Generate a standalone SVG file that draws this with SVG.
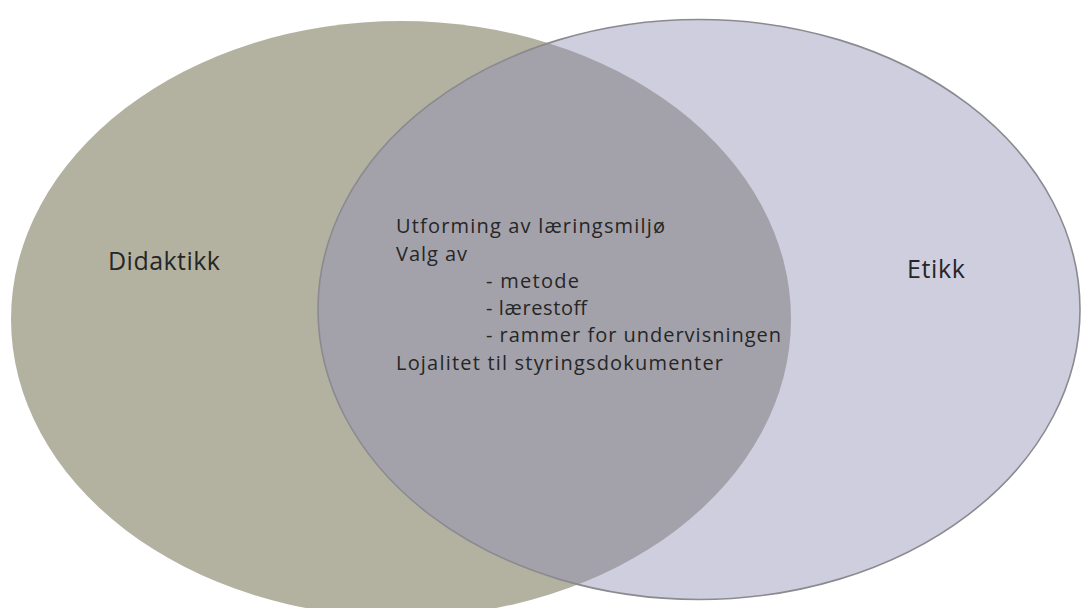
<svg xmlns="http://www.w3.org/2000/svg" width="1081" height="608" viewBox="0 0 1081 608">
<defs>
<style>
.lbl{font-family:"Open Sans","Liberation Sans",sans-serif;fill:#262626}
.big{font-size:25px}
.mid{font-size:20px}
</style>
<clipPath id="clipR"><ellipse cx="699" cy="309.5" rx="381" ry="290"/></clipPath>
</defs>
<rect width="1081" height="608" fill="#ffffff"/>
<g id="didaktikk">
<ellipse cx="401" cy="319" rx="390" ry="298" fill="#b3b2a1"/>
<text class="lbl big" x="108" y="270" textLength="112">Didaktikk</text>
</g>
<g id="etikk">
<ellipse cx="699" cy="309.5" rx="381" ry="290" fill="#cecede"/>
<text class="lbl big" x="907" y="278" textLength="58">Etikk</text>
</g>
<g id="overlap">
<ellipse cx="401" cy="319" rx="390" ry="298" fill="#a3a2aa" clip-path="url(#clipR)"/>
<ellipse cx="699" cy="309.5" rx="381" ry="290" fill="none" stroke="#8a8a90" stroke-width="1.6"/>
<text class="lbl mid" x="396" y="233" textLength="269">Utforming av læringsmiljø</text>
<text class="lbl mid" x="396" y="261" textLength="71">Valg av</text>
<text class="lbl mid" x="486" y="288" textLength="93">- metode</text>
<text class="lbl mid" x="486" y="315" textLength="101">- lærestoff</text>
<text class="lbl mid" x="486" y="342" textLength="295">- rammer for undervisningen</text>
<text class="lbl mid" x="396" y="370" textLength="327">Lojalitet til styringsdokumenter</text>
</g>
<g id="connectors"></g>
</svg>
